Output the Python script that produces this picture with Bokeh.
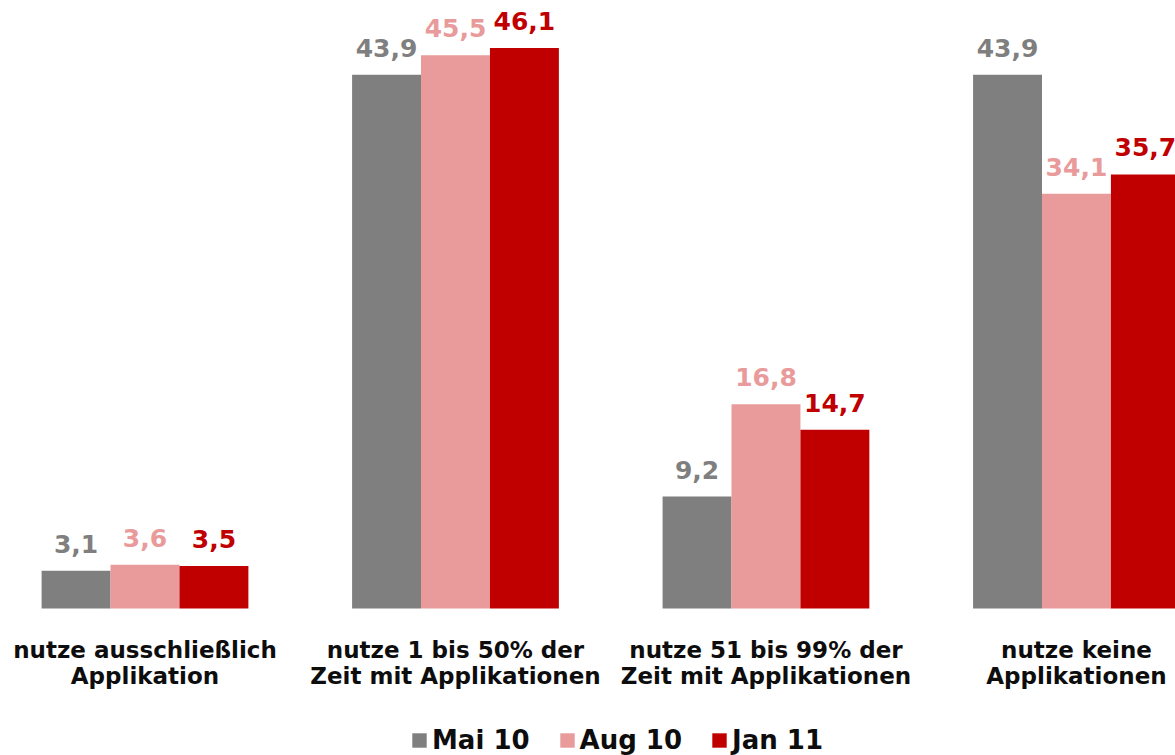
from bokeh.plotting import figure
from bokeh.models import ColumnDataSource, Range1d, Legend, LegendItem
from bokeh.core.properties import value
from bokeh.embed import file_html
from bokeh.resources import INLINE

categories = ["nutze ausschließlich\nApplikation",
              "nutze 1 bis 50% der\nZeit mit Applikationen",
              "nutze 51 bis 99% der\nZeit mit Applikationen",
              "nutze keine\nApplikationen"]
series = ["Mai 10", "Aug 10", "Jan 11"]
mai10 = [3.1, 43.9, 9.2, 43.9]
aug10 = [3.6, 45.5, 16.8, 34.1]
jan11 = [3.5, 46.1, 14.7, 35.7]
colors = ["#7F7F7F", "#E99A9A", "#C00000"]

W, H = 1175, 755
bar_w = 0.222
offsets = [-bar_w, 0.0, bar_w]

p = figure(width=W, height=H, output_backend="svg", toolbar_location=None,
           x_range=Range1d(0.0346, 3.819), y_range=Range1d(-12.09, 50.0),
           min_border=0, min_border_left=0, min_border_right=0,
           min_border_top=0, min_border_bottom=0)
p.axis.visible = False
p.grid.visible = False
p.outline_line_color = None
p.background_fill_color = "white"
p.border_fill_color = "white"

FONT = value("DejaVu Sans")
items = []
for name, vals, col, off in zip(series, [mai10, aug10, jan11], colors, offsets):
    xs = [i + 0.5 + off for i in range(len(categories))]
    src = ColumnDataSource(dict(x=xs, top=vals,
                                lab=[f"{v:.1f}".replace(".", ",") for v in vals]))
    r = p.vbar(x="x", top="top", bottom=0, width=bar_w, source=src,
               fill_color=col, line_color=None)
    p.text(x="x", y="top", text="lab", source=src, text_font=FONT,
           text_font_style="bold", text_font_size="25px", text_color=col,
           text_align="center", text_baseline="middle", y_offset=-27)
    items.append(LegendItem(label=name, renderers=[r]))

csrc = ColumnDataSource(dict(x=[i + 0.5 for i in range(len(categories))],
                             y=[0] * len(categories), t=categories))
p.text(x="x", y="y", text="t", source=csrc, text_font=FONT,
       text_font_style="bold", text_font_size="23px", text_color="#0D0D0D",
       text_align="center", text_baseline="top", y_offset=29,
       text_line_height=1.0)

legend = Legend(items=items, orientation="horizontal", location=(410, 0),
                border_line_color=None, background_fill_alpha=0,
                label_text_font="DejaVu Sans", label_text_font_style="bold",
                label_text_font_size="26px", label_text_color="#0D0D0D",
                glyph_width=18, glyph_height=18, label_standoff=4,
                spacing=28, padding=0, margin=0)
p.add_layout(legend)

open("out.html", "w").write(file_html(p, INLINE))
